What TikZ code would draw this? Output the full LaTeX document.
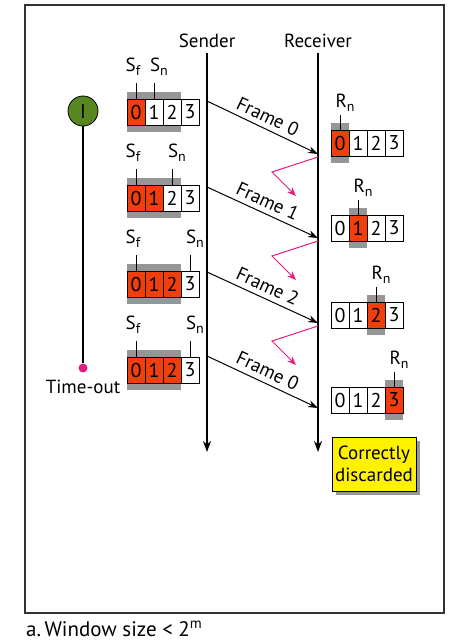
\documentclass[tikz,border=0pt]{standalone}
\usepackage{fontspec}
\setmainfont{PT Sans}
\usetikzlibrary{arrows.meta,positioning,shadows}

\definecolor{winred}{RGB}{240,62,12}
\definecolor{wingray}{RGB}{150,150,150}
\definecolor{timergreen}{RGB}{88,135,32}
\definecolor{ackpink}{RGB}{228,28,128}
\newcommand\lowsub[1]{\raisebox{-0.45ex}{\fontsize{14}{14}\selectfont #1}}

\begin{document}
\begin{tikzpicture}[x=1pt,y=-1pt,
    lbl/.style={font=\fontsize{19}{21}\selectfont, inner sep=0pt},
    cell/.style={draw, line width=0.8pt, minimum width=18pt, minimum height=26pt,
      inner sep=0pt, font=\fontsize{20}{20}\selectfont},
    line/.style={line width=2pt, -{Stealth[length=11pt,width=8pt]}},
    frame/.style={line width=1pt, -{Stealth[length=10pt,width=7pt]}},
    ack/.style={ackpink, line width=1pt, -{Stealth[length=9pt,width=7pt]}}]
  \useasboundingbox (0,0) rectangle (452,642);
  % outer box and caption
  \draw[line width=1.3pt, black!80] (25,5) rectangle (444,613);
  \node[lbl, anchor=base west, font=\fontsize{21}{23}\selectfont] (caption) at (26,636)
    {a.\,Window size < 2\textsuperscript{m}};
  % time lines
  \node[lbl] (sender) at (207,41) {Sender};
  \node[lbl] (receiver) at (318,41) {Receiver};
  \coordinate (stop) at (207,53);
  \coordinate (sbot) at (207,452);
  \coordinate (rtop) at (318,53);
  \coordinate (rbot) at (318,452);
  \draw[line] (stop) -- (sbot);
  \draw[line] (rtop) -- (rbot);
  % timer
  \node[circle, draw, line width=0.8pt, fill=timergreen, minimum size=30pt, inner sep=0pt,
    font=\fontsize{20}{20}\selectfont] (timer) at (83,111) {I};
  \node[circle, fill=ackpink, inner sep=0pt, minimum size=9pt] (tout) at (83,368) {};
  \draw[line width=1.3pt] (timer) -- (tout);
  \node[lbl, below=7pt of tout] (toutlbl) {Time-out};
  % sender windows
  \foreach \w/\top/\nred/\sn in {1/99/1/1, 2/185/2/2, 3/271/3/3, 4/357/3/3}{
    \fill[wingray] (127,\top-7) rectangle (181,\top+33);
    \foreach \c in {0,...,3}{
      \ifnum\c<\nred\relax \def\cf{winred}\else\def\cf{white}\fi
      \node[cell, fill=\cf] (s\w c\c) at (136+18*\c,\top+13) {\c};
    }
    \draw[line width=0.8pt] (s\w c0.north) -- ++(0,-16);
    \draw[line width=0.8pt] (s\w c\sn.north) -- ++(0,-16);
    \node[lbl, anchor=base] (sf\w) at (133,\top-28) {S\lowsub{f}};
    \node[lbl, anchor=base] (sn\w) at (141+18*\sn,\top-28) {S\lowsub{n}};
  }
  % receiver windows
  \foreach \w/\top/\rn in {1/130/0, 2/215/1, 3/302/2, 4/387/3}{
    \fill[wingray] (331+18*\rn,\top-7) rectangle ++(18,40);
    \foreach \c in {0,...,3}{
      \ifnum\c=\rn\relax \def\cf{winred}\else\def\cf{white}\fi
      \node[cell, fill=\cf] (r\w c\c) at (340+18*\c,\top+13) {\c};
    }
    \draw[line width=0.8pt] (r\w c\rn.north) -- ++(0,-15);
    \node[lbl, anchor=base] (rn\w) at (345+18*\rn,\top-23) {R\lowsub{n}};
  }
  % frames
  \foreach \i/\ys/\yr/\t in {0/101/154/Frame 0, 1/187/238/Frame 1, 2/272/323/Frame 2, 3/356/408/Frame 0}{
    \coordinate (fs\i) at (207,\ys);
    \coordinate (fr\i) at (318,\yr);
    \draw[frame] (fs\i) -- node[lbl, sloped, above=5pt] (fl\i) {\t} (fr\i);
  }
  % lost acks
  \foreach \i/\yr in {0/154, 1/238, 2/323}{
    \coordinate (as\i) at (318,\yr+3);
    \coordinate (am\i) at (272,\yr+18);
    \coordinate (ae\i) at (296,\yr+42);
    \draw[ack] (as\i) -- (am\i) -- (ae\i);
  }
  % discarded note
  \node[draw, line width=0.8pt, fill=yellow, align=center, inner sep=3pt,
    minimum width=84pt, minimum height=54pt, font=\fontsize{19}{22}\selectfont,
    drop shadow={shadow xshift=4pt, shadow yshift=-4pt, fill=wingray, opacity=1}]
    (disc) at (374,464) {Correctly\\discarded};
\end{tikzpicture}
\end{document}
